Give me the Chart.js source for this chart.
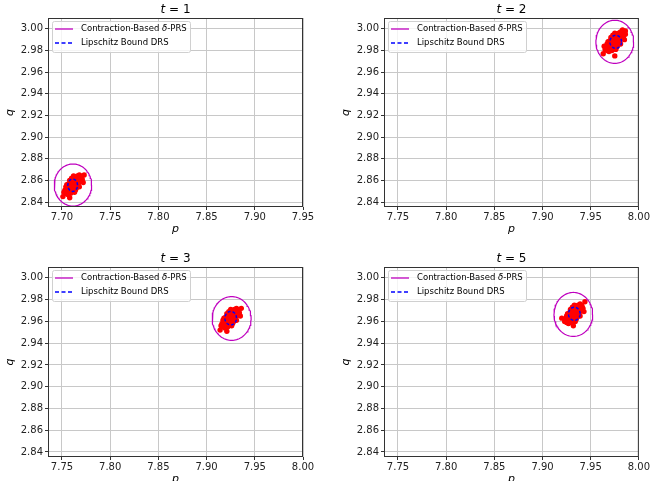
<!DOCTYPE html>
<html>
<head>
<meta charset="utf-8">
<script src="https://cdn.jsdelivr.net/npm/chart.js@4.4.1/dist/chart.umd.min.js"></script>
<style>
  html, body { margin: 0; padding: 0; background: #fff; overflow: hidden; }
  #wrap { position: relative; width: 651px; height: 481px; overflow: hidden; }
  canvas { position: absolute; }
</style>
</head>
<body>
<div id="wrap">
  <canvas id="c1" width="325" height="240" style="left:0;top:0;width:325px;height:240px"></canvas>
  <canvas id="c2" width="315" height="240" style="left:336px;top:0;width:315px;height:240px"></canvas>
  <canvas id="c3" width="325" height="241" style="left:0;top:249px;width:325px;height:241px"></canvas>
  <canvas id="c4" width="315" height="241" style="left:336px;top:249px;width:315px;height:241px"></canvas>
</div>
<script>
// ---- data ----
const panelTimes = [1, 2, 3, 5];
const pMin = [7.6855, 7.7355, 7.7355, 7.7355];
const pMax = [7.95, 8.00, 8.00, 8.00];
const qMin = 2.8354, qMax = 3.0100;
const pStep = 0.05, qStep = 0.02;

// ellipse centres / semi-axes (p, q)
const contractionCenters = [[7.7114, 2.8557], [7.975, 2.988], [7.926, 2.9627], [7.932, 2.9664]];
const contractionRadii   = [[0.0194, 0.0194], [0.0196, 0.0199], [0.0202, 0.0201], [0.0201, 0.0202]];
const lipschitzCenters   = [[7.7111, 2.8555], [7.976, 2.988], [7.925, 2.963], [7.933, 2.967]];
const lipschitzRadii     = [[0.0050, 0.0057], [0.0060, 0.0060], [0.0060, 0.0062], [0.0060, 0.0060]];

// sampled states (p, q)
const cloudT1 = [
  [7.704,2.848],[7.706,2.847],[7.703,2.851],[7.705,2.850],[7.707,2.849],[7.708,2.851],[7.706,2.853],
  [7.704,2.854],[7.709,2.848],[7.710,2.850],[7.708,2.854],[7.710,2.853],[7.712,2.852],[7.711,2.855],
  [7.709,2.856],[7.707,2.857],[7.713,2.854],[7.714,2.851],[7.712,2.857],[7.714,2.856],[7.710,2.858],
  [7.708,2.860],[7.713,2.859],[7.715,2.858],[7.716,2.855],[7.717,2.857],[7.715,2.861],[7.712,2.861],
  [7.710,2.862],[7.714,2.863],[7.717,2.860],[7.718,2.862],[7.716,2.864],[7.719,2.859],[7.720,2.863],
  [7.718,2.865],[7.721,2.861],[7.705,2.856],[7.702,2.849],[7.718,2.854],[7.713,2.849],[7.701,2.845],
  [7.723,2.865],[7.708,2.844],[7.722,2.858],
  [7.705,2.848],[7.707,2.851],[7.709,2.852],[7.711,2.851],[7.711,2.853],[7.713,2.856],[7.711,2.858],
  [7.713,2.857],[7.715,2.856],[7.715,2.853],[7.714,2.859],[7.716,2.861],[7.711,2.860],[7.713,2.862],
  [7.717,2.863],[7.715,2.863],[7.719,2.861],[7.717,2.858],[7.719,2.864],[7.709,2.859],[7.707,2.855],
  [7.705,2.852],[7.709,2.850],[7.712,2.854],[7.714,2.855],[7.716,2.857],[7.718,2.860],[7.720,2.861],
  [7.709,2.858],[7.712,2.864]
];
const cloudT2 = [
  [7.967,2.980],[7.969,2.979],[7.966,2.983],[7.968,2.982],[7.970,2.981],[7.971,2.983],[7.969,2.985],
  [7.967,2.986],[7.972,2.980],[7.973,2.982],[7.971,2.986],[7.973,2.985],[7.975,2.984],[7.974,2.987],
  [7.972,2.988],[7.970,2.989],[7.976,2.986],[7.977,2.983],[7.975,2.989],[7.977,2.988],[7.973,2.990],
  [7.971,2.992],[7.976,2.991],[7.978,2.990],[7.979,2.987],[7.980,2.989],[7.978,2.993],[7.975,2.993],
  [7.973,2.994],[7.977,2.995],[7.980,2.992],[7.981,2.994],[7.979,2.996],[7.982,2.991],[7.983,2.995],
  [7.981,2.997],[7.984,2.993],[7.968,2.988],[7.965,2.981],[7.981,2.986],[7.976,2.981],[7.963,2.977],
  [7.986,2.998],[7.975,2.975],[7.985,2.990],[7.964,2.984],[7.986,2.995],[7.983,2.999],
  [7.968,2.980],[7.970,2.983],[7.972,2.984],[7.974,2.983],[7.974,2.985],[7.976,2.988],[7.974,2.990],
  [7.976,2.989],[7.978,2.988],[7.978,2.985],[7.977,2.991],[7.979,2.993],[7.974,2.992],[7.976,2.994],
  [7.980,2.995],[7.978,2.995],[7.982,2.993],[7.980,2.990],[7.982,2.996],[7.972,2.991],[7.970,2.987],
  [7.968,2.984],[7.972,2.982],[7.975,2.986],[7.977,2.987],[7.979,2.989],[7.981,2.992],[7.983,2.993],
  [7.972,2.990],[7.975,2.996]
];
const cloudT3 = [
  [7.917,2.955],[7.919,2.954],[7.916,2.958],[7.918,2.957],[7.920,2.956],[7.921,2.958],[7.919,2.960],
  [7.917,2.961],[7.922,2.955],[7.923,2.957],[7.921,2.961],[7.923,2.960],[7.925,2.959],[7.924,2.962],
  [7.922,2.963],[7.920,2.964],[7.926,2.961],[7.927,2.958],[7.925,2.964],[7.927,2.963],[7.923,2.965],
  [7.921,2.967],[7.926,2.966],[7.928,2.965],[7.929,2.962],[7.930,2.964],[7.928,2.968],[7.925,2.968],
  [7.923,2.969],[7.927,2.970],[7.930,2.967],[7.931,2.969],[7.929,2.971],[7.932,2.966],[7.933,2.970],
  [7.931,2.972],[7.934,2.968],[7.918,2.963],[7.915,2.956],[7.931,2.961],[7.926,2.956],[7.914,2.952],
  [7.936,2.972],[7.921,2.951],[7.935,2.965],
  [7.918,2.955],[7.920,2.958],[7.922,2.959],[7.924,2.958],[7.924,2.960],[7.926,2.963],[7.924,2.965],
  [7.926,2.964],[7.928,2.963],[7.928,2.960],[7.927,2.966],[7.929,2.968],[7.924,2.967],[7.926,2.969],
  [7.930,2.970],[7.928,2.970],[7.932,2.968],[7.930,2.965],[7.932,2.971],[7.922,2.966],[7.920,2.962],
  [7.918,2.959],[7.922,2.957],[7.925,2.961],[7.927,2.962],[7.929,2.964],[7.931,2.967],[7.933,2.968],
  [7.922,2.965],[7.925,2.971]
];
const cloudT5 = [
  [7.925,2.959],[7.927,2.958],[7.924,2.962],[7.926,2.961],[7.928,2.960],[7.929,2.962],[7.927,2.964],
  [7.925,2.965],[7.930,2.959],[7.931,2.961],[7.929,2.965],[7.931,2.964],[7.933,2.963],[7.932,2.966],
  [7.930,2.967],[7.928,2.968],[7.934,2.965],[7.935,2.962],[7.933,2.968],[7.935,2.967],[7.931,2.969],
  [7.929,2.971],[7.934,2.970],[7.936,2.969],[7.937,2.966],[7.938,2.968],[7.936,2.972],[7.933,2.972],
  [7.931,2.973],[7.935,2.974],[7.938,2.971],[7.939,2.973],[7.937,2.975],[7.940,2.970],[7.941,2.974],
  [7.939,2.976],[7.942,2.972],[7.926,2.967],[7.923,2.960],[7.939,2.965],[7.934,2.960],[7.920,2.963],
  [7.944,2.978],[7.932,2.956],[7.943,2.969],
  [7.926,2.959],[7.928,2.962],[7.930,2.963],[7.932,2.962],[7.932,2.964],[7.934,2.967],[7.932,2.969],
  [7.934,2.968],[7.936,2.967],[7.936,2.964],[7.935,2.970],[7.937,2.972],[7.932,2.971],[7.934,2.973],
  [7.938,2.974],[7.936,2.974],[7.940,2.972],[7.938,2.969],[7.940,2.975],[7.930,2.970],[7.928,2.966],
  [7.926,2.963],[7.930,2.961],[7.933,2.965],[7.935,2.966],[7.937,2.968],[7.939,2.971],[7.941,2.972],
  [7.930,2.969],[7.933,2.975]
];
const clouds = [cloudT1, cloudT2, cloudT3, cloudT5];

const legendLabels = ["Contraction-Based ", "δ", "-PRS", "Lipschitz Bound DRS"];

// ---- styles ----
const MAGENTA = "#bf00bf", BLUE = "#0000ff", RED = "#ff0000";
const FONT = "'DejaVu Sans', sans-serif";
Chart.defaults.font.family = FONT;
Chart.defaults.animation = false;

// outline of an ellipse from its centre and semi-axes
function ellipse(c, r) {
  const pts = [];
  for (let i = 0; i <= 96; i++) {
    const a = (i / 96) * Math.PI * 2;
    pts.push({ x: c[0] + r[0] * Math.cos(a), y: c[1] + r[1] * Math.sin(a) });
  }
  return pts;
}

// frame, title and in-axes legend (matplotlib look)
const panelDecor = {
  id: "panelDecor",
  afterDraw(chart, args, opts) {
    const { ctx, chartArea: a } = chart;
    ctx.save();
    // spines
    ctx.strokeStyle = "#333";
    ctx.lineWidth = 1;
    ctx.strokeRect(a.left + 0.5, a.top + 0.5, a.right - a.left - 1, a.bottom - a.top - 1);

    // title  "t = n"
    const cx = (a.left + a.right) / 2, ty = a.top - 8;
    ctx.fillStyle = "#000";
    ctx.textBaseline = "middle";
    ctx.font = "italic 12px " + FONT;
    const wT = ctx.measureText("t").width;
    ctx.font = "12px " + FONT;
    const rest = " = " + opts.t;
    const wR = ctx.measureText(rest).width;
    let x0 = cx - (wT + wR) / 2;
    ctx.font = "italic 12px " + FONT;
    ctx.textAlign = "left";
    ctx.fillText("t", x0, ty);
    ctx.font = "12px " + FONT;
    ctx.fillText(rest, x0 + wT, ty);

    // legend box
    const bx = a.left + 4.5, by = a.top + 3.5, bw = 138, bh = 31, rr = 2;
    ctx.beginPath();
    ctx.moveTo(bx + rr, by);
    ctx.arcTo(bx + bw, by, bx + bw, by + bh, rr);
    ctx.arcTo(bx + bw, by + bh, bx, by + bh, rr);
    ctx.arcTo(bx, by + bh, bx, by, rr);
    ctx.arcTo(bx, by, bx + bw, by, rr);
    ctx.closePath();
    ctx.fillStyle = "rgba(255,255,255,0.8)";
    ctx.fill();
    ctx.strokeStyle = "#d0d0d0";
    ctx.stroke();

    const lx0 = a.left + 7, lx1 = a.left + 25, tx = a.left + 33;
    const y1 = a.top + 11, y2 = a.top + 25;
    ctx.lineWidth = 1.3;
    ctx.strokeStyle = MAGENTA;
    ctx.beginPath(); ctx.moveTo(lx0, y1); ctx.lineTo(lx1, y1); ctx.stroke();
    ctx.strokeStyle = BLUE;
    ctx.setLineDash([4, 2.5]);
    ctx.beginPath(); ctx.moveTo(lx0, y2); ctx.lineTo(lx1, y2); ctx.stroke();
    ctx.setLineDash([]);

    ctx.fillStyle = "#000";
    ctx.font = "8.5px " + FONT;
    let x = tx;
    ctx.fillText(legendLabels[0], x, y1);
    x += ctx.measureText(legendLabels[0]).width;
    ctx.font = "italic 8.5px " + FONT;
    ctx.fillText(legendLabels[1], x, y1);
    x += ctx.measureText(legendLabels[1]).width;
    ctx.font = "8.5px " + FONT;
    ctx.fillText(legendLabels[2], x, y1);
    ctx.fillText(legendLabels[3], tx, y2);
    ctx.restore();
  }
};

function axis(min, max, step, title, horizontal) {
  return {
    type: "linear",
    min, max,
    ticks: {
      stepSize: step,
      includeBounds: false,
      color: "#222",
      font: { size: 10 },
      padding: horizontal ? 1 : 2,
      callback: (v) => (+v).toFixed(2)
    },
    grid: { color: "#c8c8c8", lineWidth: 1, tickColor: "#333", tickLength: 3 },
    border: { display: false },
    title: {
      display: true, text: title,
      font: { size: 11, style: "italic" }, color: "#000",
      padding: { top: 4, bottom: 4 }
    },
    afterFit(scale) {
      if (horizontal) scale.height = 33; else scale.width = 48;
    }
  };
}

const rightPad = [22, 11, 22, 11];

panelTimes.forEach((t, k) => {
  new Chart(document.getElementById("c" + (k + 1)), {
    type: "scatter",
    data: {
      datasets: [
        {
          label: "Lipschitz Bound DRS",
          data: ellipse(lipschitzCenters[k], lipschitzRadii[k]),
          showLine: true, pointRadius: 0, borderColor: BLUE, borderWidth: 1.5,
          borderDash: [3, 2], order: 1
        },
        {
          label: "Contraction-Based δ-PRS",
          data: ellipse(contractionCenters[k], contractionRadii[k]),
          showLine: true, pointRadius: 0, borderColor: MAGENTA, borderWidth: 1.2, order: 2
        },
        {
          label: "samples",
          data: clouds[k].map(([p, q]) => ({ x: p, y: q })),
          pointRadius: 2.7, pointBackgroundColor: RED, pointBorderWidth: 0, order: 3
        }
      ]
    },
    options: {
      responsive: false,
      layout: { padding: { top: 18, right: rightPad[k], left: 0, bottom: 0 } },
      scales: {
        x: axis(pMin[k], pMax[k], pStep, "p", true),
        y: axis(qMin, qMax, qStep, "q", false)
      },
      plugins: {
        legend: { display: false },
        tooltip: { enabled: false },
        panelDecor: { t }
      }
    },
    plugins: [panelDecor]
  });
});
</script>
</body>
</html>
